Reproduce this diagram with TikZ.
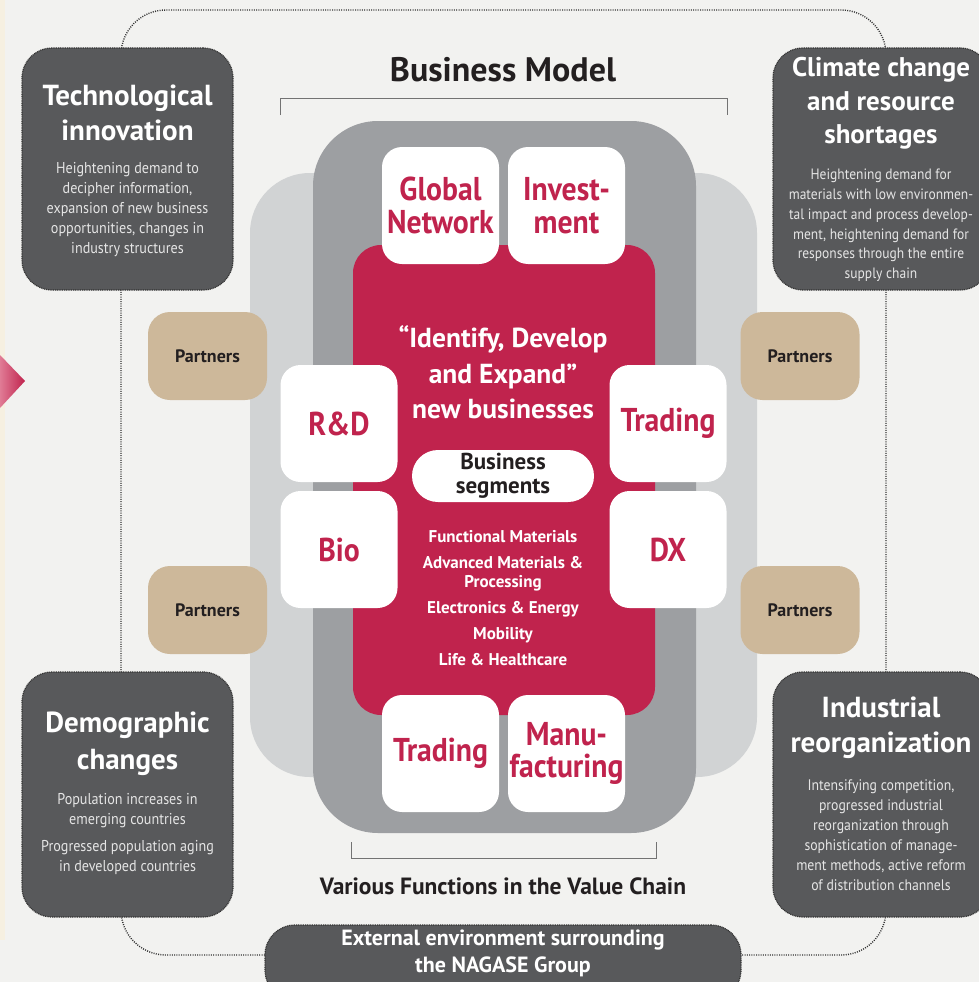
\documentclass[tikz,border=0pt]{standalone}
\usepackage{fontspec}
\setmainfont{PT Sans}
\newfontfamily\narrowf{PT Sans}[FakeStretch=0.9]
\definecolor{bgc}{HTML}{F2F2F0}
\definecolor{cream}{HTML}{F6F0E1}
\definecolor{darkc}{HTML}{58595B}
\definecolor{lgrey}{HTML}{D1D3D4}
\definecolor{mgrey}{HTML}{9D9FA2}
\definecolor{crim}{HTML}{C0234D}
\definecolor{tan}{HTML}{CDB89A}
\definecolor{ink}{HTML}{231F20}
\definecolor{pinkl}{HTML}{E07B95}
\begin{document}
\begin{tikzpicture}[x=1pt,y=-1pt,
  darkbox/.style={fill=darkc, draw=black!80, line width=1.2pt, dash pattern=on 1pt off 0.8pt, rounded corners=30pt, inner sep=0pt},
  whitebox/.style={fill=white, rounded corners=20pt, minimum width=117pt, minimum height=117pt, inner sep=0pt, text=crim, font=\narrowf\bfseries\fontsize{33}{32.5}\selectfont, align=center},
  partbox/.style={fill=tan, rounded corners=22pt, minimum width=119pt, minimum height=88pt, inner sep=0pt, text=ink, font=\bfseries\fontsize{18}{20}\selectfont},
  dtitle/.style={text=white, font=\bfseries\fontsize{29}{35}\selectfont, align=center},
  dbody/.style={text=white!90!black, font=\narrowf\fontsize{15.7}{20}\selectfont, align=center},
  frame/.style={draw=black!80, line width=1.4pt, dash pattern=on 1pt off 1.3pt},
  brack/.style={draw=black!55, line width=0.9pt}
]
\useasboundingbox (0,0) rectangle (979,982);
\fill[bgc] (0,0) rectangle (979,982);
\fill[cream] (0,0) rectangle (5,940);
\shade[left color=pinkl, right color=crim] (0,355) -- (25,381) -- (0,408) -- cycle;

% outer dotted frame
\draw[frame, rounded corners=45pt] (121,10) rectangle (886,955);

% business model core
\node[fill=lgrey, rounded corners=60pt, minimum width=507pt, minimum height=604pt, inner sep=0pt] (back) at (503.5,475) {};
\node[fill=mgrey, rounded corners=65pt, minimum width=383pt, minimum height=712pt, inner sep=0pt] (mid) at (504.5,477) {};
\node[fill=crim, rounded corners=28pt, minimum width=302pt, minimum height=470pt, inner sep=0pt] (core) at (504,480) {};

\node[whitebox] (gn) at (440.5,205.5) {Global\\Network};
\node[whitebox] (inv) at (566.5,205.5) {Invest-\\ment};
\node[whitebox] (rd) at (339,423.5) {R\&D};
\node[whitebox] (trr) at (668,423.5) {Trading};
\node[whitebox] (bio) at (339,549.5) {Bio};
\node[whitebox] (dx) at (668,549.5) {DX};
\node[whitebox] (trb) at (440.5,753.5) {Trading};
\node[whitebox] (manu) at (566.5,753.5) {Manu-\\facturing};

\node[text=white, font=\bfseries\fontsize{27.5}{35.5}\selectfont, align=center] (ide) at (503,372.5) {“Identify, Develop\\and Expand”\\new businesses};
\node[fill=white, rounded corners=26pt, minimum width=182pt, minimum height=52pt, inner sep=0pt, text=ink, font=\bfseries\fontsize{23}{24}\selectfont, align=center] (seg) at (503,476) {Business\\segments};
\node[text=white, font=\bfseries\fontsize{17}{19}\selectfont, align=center] (segl) at (503,598.5) {Functional Materials\\[7pt]Advanced Materials \&\\Processing\\[7pt]Electronics \& Energy\\[7pt]Mobility\\[7pt]Life \& Healthcare};

% partners
\node[partbox] (p1) at (207.5,356) {Partners};
\node[partbox] (p2) at (207.5,610) {Partners};
\node[partbox] (p3) at (800,356) {Partners};
\node[partbox] (p4) at (800,610) {Partners};

% titles and brackets
\node[text=ink, font=\bfseries\fontsize{34}{36}\selectfont] (bm) at (503,70) {Business Model};
\draw[brack] (280,115) -- (280,98) -- (727,98) -- (727,115);
\draw[brack] (351,842) -- (351,858) -- (656,858) -- (656,842);
\node[text=ink, font=\bfseries\fontsize{23.5}{26}\selectfont] (vf) at (503,886) {Various Functions in the Value Chain};

% external environment boxes
\node[darkbox, minimum width=211pt, minimum height=242pt] (tech) at (127.5,169) {};
\node[dtitle] (techt) at (127.5,112.5) {Technological\\innovation};
\node[dbody] (techb) at (127.5,210) {Heightening demand to\\decipher information,\\expansion of new business\\opportunities, changes in\\industry structures};

\node[darkbox, minimum width=217pt, minimum height=242pt] (clim) at (881.5,169) {};
\node[dtitle, font=\bfseries\fontsize{27}{33.5}\selectfont] (climt) at (881,103.5) {Climate change\\and resource\\shortages};
\node[dbody, font=\narrowf\fontsize{15}{19.8}\selectfont] (climb) at (881,225.5) {Heightening demand for\\materials with low environmen-\\tal impact and process develop-\\ment, heightening demand for\\responses through the entire\\supply chain};

\node[darkbox, minimum width=211pt, minimum height=245pt] (demo) at (127.5,794.5) {};
\node[dtitle, font=\bfseries\fontsize{29}{37}\selectfont] (demot) at (127.5,743.5) {Demographic\\changes};
\node[dbody] (demob) at (127.5,834.5) {Population increases in\\emerging countries\\[7pt]Progressed population aging\\in developed countries};

\node[darkbox, minimum width=217pt, minimum height=245pt] (indu) at (881.5,794.5) {};
\node[dtitle] (indut) at (881,727.5) {Industrial\\reorganization};
\node[dbody, font=\narrowf\fontsize{15.3}{20}\selectfont] (indub) at (881,835) {Intensifying competition,\\progressed industrial\\reorganization through\\sophistication of manage-\\ment methods, active reform\\of distribution channels};

\node[darkbox, minimum width=476pt, minimum height=75pt] (ext) at (503,962.5) {};
\node[text=white, font=\bfseries\fontsize{22}{27}\selectfont, align=center] (extt) at (503,953.5) {External environment surrounding\\the NAGASE Group};
\end{tikzpicture}
\end{document}
